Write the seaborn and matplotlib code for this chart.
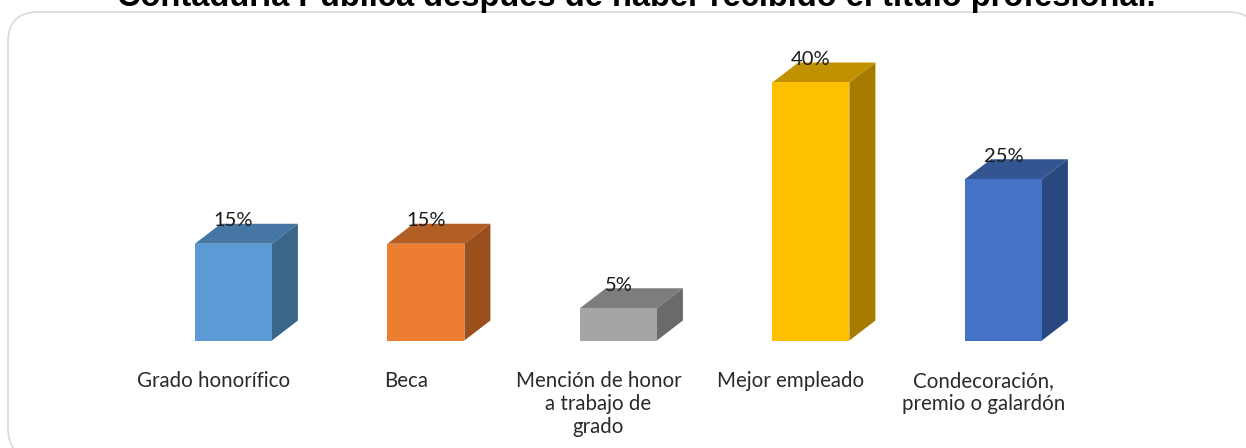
import matplotlib
matplotlib.use("Agg")
import matplotlib.pyplot as plt
from matplotlib.patches import FancyBboxPatch, Polygon
import pandas as pd
import seaborn as sns

categories = ["Grado honorífico", "Beca", "Mención de honor\na trabajo de\ngrado",
              "Mejor empleado", "Condecoración,\npremio o galardón"]
values = [15, 15, 5, 40, 25]
front_colors = ["#5B9BD5", "#ED7D31", "#A5A5A5", "#FFC000", "#4472C4"]
top_colors = ["#4676A3", "#B35E24", "#7D7D7D", "#C19100", "#335693"]
side_colors = ["#3A6689", "#9A4F1C", "#6A6A6A", "#A67C00", "#2A4880"]
title = "Contaduría Pública después de haber recibido el título profesional."

W, H = 1246, 448
sns.set_theme(style="white")
plt.rcParams["font.family"] = ["Lato", "DejaVu Sans"]
fig = plt.figure(figsize=(W / 100, H / 100), dpi=100, facecolor="white")

# rounded outer frame (runs past the right and bottom edges of the picture)
bg = fig.add_axes([0, 0, 1, 1], zorder=0)
bg.set_xlim(0, W); bg.set_ylim(H, 0); bg.axis("off")
r = 30
bg.add_patch(FancyBboxPatch((8 + r, 12 + r), 1250 - 2 * r, 446 - 2 * r,
                            boxstyle=f"round,pad={r},rounding_size={r}",
                            fc="white", ec="#D9D9D9", lw=1.2))

# plot axes: one category step = 192.5 px, one percent = 6.45 px
step, ppu = 192.5, 6.45
c0 = 233.4
left = c0 - step / 2
right = c0 + 4.5 * step
base, top = 340.5, 20.5
ax = fig.add_axes([left / W, 1 - base / H, (right - left) / W, (base - top) / H], zorder=1)
df = pd.DataFrame({"cat": categories, "val": values})
sns.barplot(data=df, x="cat", y="val", hue="cat", palette=front_colors, legend=False,
            width=0.4, saturation=1, ax=ax, zorder=3, edgecolor="none", linewidth=0)
ax.set_xlim(-0.5, 4.5)
ax.set_ylim(0, (base - top) / ppu)
ax.patch.set_alpha(0)
dx, dy = 26 / step, 20 / ppu
hw = 0.2
for i, v in enumerate(values):
    ax.add_patch(Polygon([(i - hw, v), (i + hw, v), (i + hw + dx, v + dy), (i - hw + dx, v + dy)],
                         fc=top_colors[i], ec="none", zorder=2))
    ax.add_patch(Polygon([(i + hw, 0), (i + hw + dx, dy), (i + hw + dx, v + dy), (i + hw, v)],
                         fc=side_colors[i], ec="none", zorder=2))
    ax.annotate(f"{v}%", (i, v), xytext=(0, 23), textcoords="offset pixels", ha="center",
                va="center", fontsize=14.5, color="#1a1a1a", zorder=5)

sns.despine(ax=ax, left=True, bottom=True)
ax.set_xlabel(""); ax.set_ylabel(""); ax.set_yticks([])
ax.set_xticks([i - 20 / step for i in range(5)])
ax.set_xticklabels(categories, fontsize=14.8, color="#2a2a2a", linespacing=1.2)
ax.tick_params(axis="x", length=0, pad=22)

fig.text(636 / W, 1 - 6 / H, title, ha="center", va="baseline", fontsize=23.5,
         fontweight="bold", color="black", family="Liberation Sans", zorder=5)
fig.savefig("out.png", dpi=100)
